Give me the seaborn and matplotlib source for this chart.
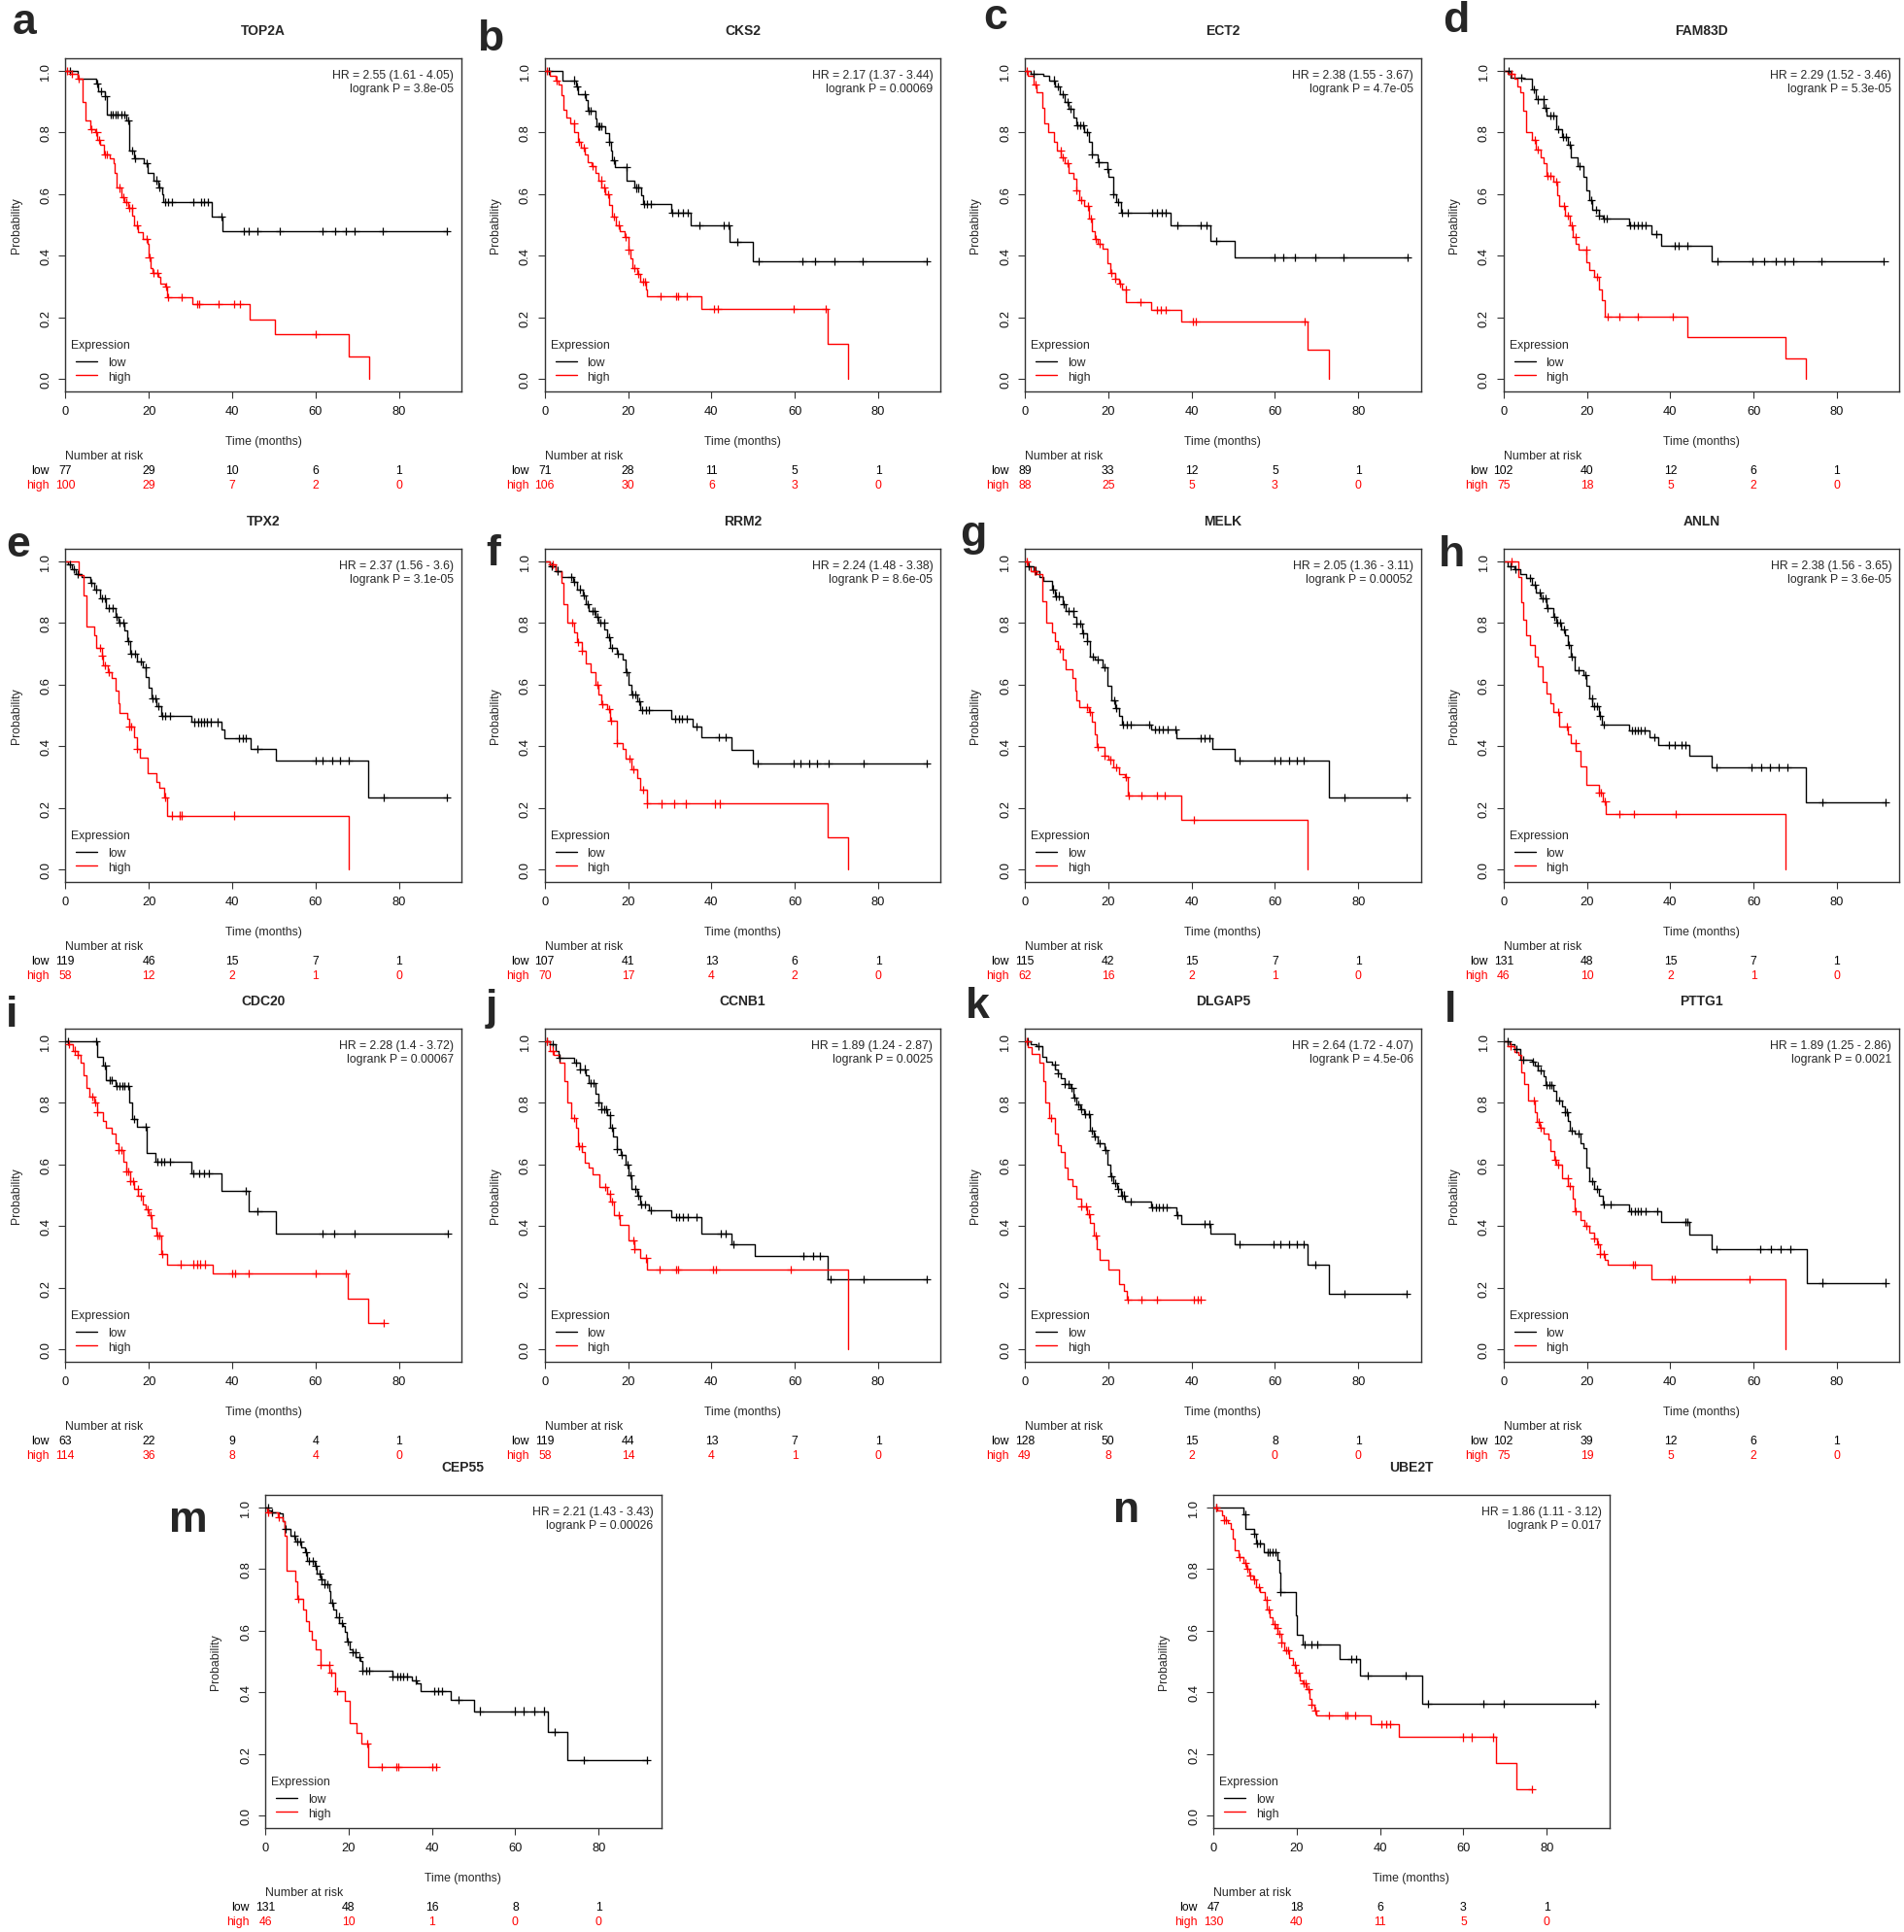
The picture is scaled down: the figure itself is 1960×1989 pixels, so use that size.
import numpy as np
import pandas as pd
import matplotlib
matplotlib.use("Agg")
import matplotlib.pyplot as plt
import matplotlib.transforms as mtransforms
import seaborn as sns

sns.set_theme(style="ticks")
plt.rcParams["font.family"] = ["Liberation Sans", "DejaVu Sans"]

# ---------------- data (time in months, survival probability) ----------------
risk_times = [0, 20, 40, 60, 80]

# a TOP2A
top2a_low_t = [2.9, 7.4, 7.8, 9.4, 10.0, 14.6, 15.4, 16.5, 18.9, 19.8, 21.2, 22.4, 23.2, 23.5, 35.2, 37.7]
top2a_low_s = [0.974, 0.96, 0.935, 0.918, 0.858, 0.838, 0.74, 0.716, 0.70, 0.67, 0.645, 0.623, 0.60, 0.573, 0.526, 0.479]
top2a_low_c = [1.0, 7.6, 8.6, 9.6, 10.8, 11.4, 12.0, 12.6, 13.5, 14.2, 15.0, 16.0, 16.7, 19.5, 21.8, 22.6, 24.0, 24.7, 25.5, 30.7, 32.5, 33.3, 34.2, 37.4, 42.9, 44.1, 46.1, 51.5, 61.8, 64.7, 67.2, 69.5, 76.1, 91.5]
top2a_high_t = [1.0, 3.0, 4.1, 4.9, 6.1, 7.2, 7.6, 8.4, 9.2, 10.7, 11.5, 11.9, 12.4, 13.4, 14.2, 15.0, 16.0, 16.5, 17.3, 18.5, 19.7, 19.9, 20.4, 21.0, 22.4, 22.8, 23.9, 24.5, 30.5, 44.3, 50.2, 68.0, 72.9]
top2a_high_s = [0.99, 0.975, 0.90, 0.84, 0.81, 0.80, 0.775, 0.76, 0.73, 0.715, 0.70, 0.67, 0.62, 0.59, 0.575, 0.555, 0.53, 0.50, 0.475, 0.455, 0.44, 0.395, 0.36, 0.345, 0.33, 0.31, 0.30, 0.265, 0.243, 0.193, 0.145, 0.072, 0.0]
top2a_high_c = [0.5, 1.5, 3.2, 6.3, 7.5, 8.2, 9.5, 10.0, 13.0, 14.0, 14.6, 15.4, 15.9, 17.2, 19.4, 20.1, 21.2, 22.0, 24.1, 24.6, 27.8, 31.6, 32.0, 36.8, 40.5, 41.8, 60.0]
top2a_risk_low = [77, 29, 10, 6, 1]
top2a_risk_high = [100, 29, 7, 2, 0]

# b CKS2
cks2_low_t = [4.3, 7.5, 7.9, 9.9, 10.3, 12.2, 12.4, 14.5, 15.5, 16.0, 16.2, 16.9, 19.7, 21.5, 23.1, 23.5, 30.3, 35.1, 44.4, 49.9]
cks2_low_s = [0.97, 0.949, 0.923, 0.905, 0.87, 0.845, 0.82, 0.797, 0.77, 0.74, 0.709, 0.688, 0.644, 0.62, 0.595, 0.567, 0.539, 0.499, 0.444, 0.381]
cks2_low_c = [0.9, 7.1, 7.7, 9.6, 10.6, 11.0, 12.8, 13.2, 13.6, 15.5, 16.7, 19.6, 21.9, 22.4, 23.8, 24.6, 25.4, 30.6, 32.0, 33.2, 34.3, 37.0, 42.9, 44.0, 46.2, 51.4, 61.9, 64.8, 69.5, 76.3, 91.6]
cks2_high_t = [1.3, 2.5, 3.3, 3.9, 4.4, 5.2, 6.2, 7.1, 7.9, 8.7, 9.5, 10.3, 11.3, 12.2, 12.8, 13.6, 14.5, 15.5, 16.1, 17.0, 18.0, 19.2, 20.0, 20.6, 21.1, 22.1, 22.9, 24.2, 24.6, 37.6, 67.9, 72.8]
cks2_high_s = [0.985, 0.97, 0.955, 0.92, 0.875, 0.85, 0.83, 0.80, 0.77, 0.75, 0.73, 0.705, 0.69, 0.67, 0.645, 0.62, 0.60, 0.565, 0.528, 0.50, 0.48, 0.46, 0.418, 0.39, 0.36, 0.34, 0.315, 0.29, 0.267, 0.228, 0.114, 0.0]
cks2_high_c = [0.6, 2.8, 7.0, 8.2, 9.4, 11.5, 13.5, 14.3, 15.3, 16.6, 17.7, 19.3, 20.2, 21.6, 22.5, 23.5, 24.0, 27.8, 31.5, 32.0, 34.0, 40.5, 41.5, 59.8, 67.5]
cks2_risk_low = [71, 28, 11, 5, 1]
cks2_risk_high = [106, 30, 6, 3, 0]

# c ECT2
ect2_low_t = [1.5, 4.4, 5.8, 7.3, 8.5, 9.5, 10.5, 11.7, 12.4, 14.3, 15.3, 16.0, 17.5, 19.7, 20.1, 21.1, 21.9, 23.0, 35.0, 44.5, 50.3]
ect2_low_s = [0.99, 0.985, 0.97, 0.95, 0.925, 0.90, 0.878, 0.85, 0.823, 0.80, 0.77, 0.728, 0.702, 0.68, 0.655, 0.60, 0.575, 0.539, 0.499, 0.449, 0.394]
ect2_low_c = [2.0, 7.0, 8.0, 9.2, 10.2, 11.0, 12.6, 13.3, 14.0, 15.0, 16.0, 17.8, 19.8, 21.2, 22.4, 23.3, 24.8, 30.6, 31.8, 32.8, 33.8, 36.6, 42.3, 43.7, 45.9, 59.8, 62.0, 64.9, 69.7, 76.5, 91.8]
ect2_high_t = [0.7, 2.2, 2.9, 4.1, 4.7, 5.5, 7.0, 7.7, 8.7, 9.5, 10.6, 11.7, 12.4, 13.1, 14.3, 15.3, 16.0, 16.8, 17.5, 18.7, 19.7, 20.4, 21.6, 22.6, 23.3, 24.3, 30.3, 37.6, 67.8, 72.9]
ect2_high_s = [0.985, 0.955, 0.93, 0.88, 0.83, 0.80, 0.77, 0.74, 0.72, 0.70, 0.67, 0.65, 0.613, 0.58, 0.56, 0.52, 0.48, 0.455, 0.44, 0.423, 0.375, 0.345, 0.325, 0.31, 0.29, 0.25, 0.225, 0.186, 0.094, 0.0]
ect2_high_c = [0.4, 2.6, 8.6, 9.0, 10.2, 12.4, 13.5, 15.2, 15.8, 17.0, 18.0, 20.8, 21.6, 22.8, 24.2, 27.8, 31.8, 32.6, 33.8, 40.3, 41.0, 67.2]
ect2_risk_low = [89, 33, 12, 5, 1]
ect2_risk_high = [88, 25, 5, 3, 0]

# d FAM83D
fam83d_low_t = [1.7, 4.6, 6.8, 7.8, 9.7, 10.4, 12.6, 14.1, 15.5, 16.2, 17.7, 19.1, 19.9, 20.6, 21.3, 22.8, 23.8, 30.0, 35.4, 37.7, 50.0]
fam83d_low_s = [0.979, 0.975, 0.94, 0.907, 0.88, 0.855, 0.81, 0.785, 0.76, 0.718, 0.69, 0.655, 0.613, 0.58, 0.55, 0.53, 0.521, 0.499, 0.47, 0.432, 0.383]
fam83d_low_c = [1.2, 4.3, 7.2, 8.3, 9.5, 10.0, 11.3, 12.0, 13.2, 14.3, 14.9, 15.8, 18.2, 21.0, 22.1, 23.0, 24.0, 24.8, 30.4, 31.3, 32.2, 33.2, 34.0, 36.7, 41.0, 42.0, 44.2, 51.3, 59.7, 62.6, 65.2, 67.5, 69.6, 76.3, 91.3]
fam83d_high_t = [1.0, 2.5, 3.2, 3.9, 4.6, 5.4, 6.8, 7.8, 9.0, 9.7, 10.4, 11.9, 12.9, 13.3, 14.8, 15.9, 16.5, 17.4, 18.0, 19.9, 20.6, 21.7, 22.8, 23.5, 24.2, 44.2, 67.7, 72.5]
fam83d_high_s = [0.99, 0.975, 0.95, 0.93, 0.87, 0.80, 0.775, 0.744, 0.72, 0.70, 0.66, 0.64, 0.597, 0.562, 0.53, 0.497, 0.46, 0.44, 0.418, 0.38, 0.354, 0.33, 0.29, 0.255, 0.203, 0.137, 0.067, 0.0]
fam83d_high_c = [2.0, 7.5, 8.2, 10.5, 11.3, 12.6, 14.4, 15.5, 16.3, 17.3, 19.8, 22.4, 25.0, 27.8, 32.2, 40.6]
fam83d_risk_low = [102, 40, 12, 6, 1]
fam83d_risk_high = [75, 18, 5, 2, 0]

# e TPX2
tpx2_low_t = [0.6, 1.5, 2.5, 3.9, 6.1, 6.9, 8.3, 9.8, 12.0, 12.7, 14.2, 14.9, 15.6, 17.1, 18.5, 19.3, 20.0, 20.7, 21.9, 22.9, 30.2, 37.5, 38.2, 44.4, 50.4, 72.6]
tpx2_low_s = [0.99, 0.975, 0.96, 0.949, 0.93, 0.91, 0.88, 0.85, 0.82, 0.80, 0.775, 0.74, 0.70, 0.675, 0.655, 0.625, 0.59, 0.555, 0.53, 0.499, 0.478, 0.453, 0.425, 0.39, 0.352, 0.234]
tpx2_low_c = [1.0, 2.0, 3.0, 6.3, 7.5, 8.8, 9.6, 10.4, 11.4, 12.4, 13.0, 13.8, 15.0, 15.8, 16.7, 18.0, 19.2, 21.0, 21.6, 22.4, 23.3, 24.0, 25.0, 31.0, 31.8, 32.5, 33.2, 34.0, 35.0, 36.6, 41.6, 42.6, 43.4, 46.2, 60.0, 61.8, 64.0, 66.0, 68.0, 76.4, 91.5]
tpx2_high_t = [3.2, 4.4, 5.0, 6.9, 7.3, 8.8, 9.1, 10.2, 11.2, 12.0, 12.7, 13.1, 14.9, 15.3, 16.4, 17.1, 17.8, 19.7, 21.9, 22.5, 23.6, 24.4, 67.9]
tpx2_high_s = [0.955, 0.89, 0.79, 0.76, 0.72, 0.695, 0.662, 0.64, 0.62, 0.58, 0.54, 0.507, 0.49, 0.465, 0.43, 0.392, 0.363, 0.313, 0.285, 0.265, 0.235, 0.175, 0.0]
tpx2_high_c = [8.4, 8.8, 9.6, 10.5, 15.4, 15.8, 17.2, 24.0, 25.6, 27.5, 28.0, 40.6]
tpx2_risk_low = [119, 46, 15, 7, 1]
tpx2_risk_high = [58, 12, 2, 1, 0]

# f RRM2
rrm2_low_t = [1.2, 2.6, 4.1, 6.7, 7.7, 9.2, 9.9, 10.6, 12.1, 12.8, 14.3, 15.0, 15.7, 17.2, 18.6, 19.4, 20.1, 20.8, 22.3, 23.0, 30.3, 35.4, 37.6, 44.8, 49.9]
rrm2_low_s = [0.985, 0.97, 0.95, 0.935, 0.91, 0.889, 0.86, 0.84, 0.82, 0.80, 0.78, 0.755, 0.72, 0.70, 0.68, 0.64, 0.60, 0.568, 0.545, 0.516, 0.489, 0.465, 0.428, 0.389, 0.345]
rrm2_low_c = [1.6, 3.0, 6.4, 7.0, 8.4, 9.4, 10.2, 11.4, 12.0, 12.6, 13.4, 14.2, 15.4, 16.2, 17.6, 19.6, 21.0, 21.8, 22.6, 23.4, 24.2, 25.0, 31.2, 32.2, 33.0, 34.0, 36.4, 41.8, 43.4, 51.0, 59.7, 61.4, 63.4, 65.4, 68.0, 76.6, 91.7]
rrm2_high_t = [1.2, 2.6, 4.1, 4.5, 5.5, 7.0, 7.7, 8.9, 9.9, 10.9, 12.1, 12.8, 13.5, 15.0, 15.7, 17.2, 18.6, 19.4, 20.8, 22.3, 23.0, 24.5, 67.8, 72.8]
rrm2_high_s = [0.99, 0.97, 0.93, 0.86, 0.80, 0.77, 0.737, 0.71, 0.67, 0.64, 0.60, 0.568, 0.537, 0.52, 0.484, 0.41, 0.39, 0.36, 0.324, 0.295, 0.258, 0.213, 0.105, 0.0]
rrm2_high_c = [1.8, 6.6, 8.0, 9.0, 12.6, 13.8, 15.4, 16.0, 17.4, 20.4, 21.2, 23.6, 24.6, 28.1, 31.0, 33.9, 40.9, 41.9]
rrm2_risk_low = [107, 41, 13, 6, 1]
rrm2_risk_high = [70, 17, 4, 2, 0]

# g MELK
melk_low_t = [0.7, 2.2, 3.6, 4.4, 6.6, 7.3, 9.0, 9.9, 11.7, 12.4, 13.8, 14.9, 15.7, 16.8, 18.7, 19.7, 20.7, 21.6, 22.6, 23.3, 30.3, 36.4, 44.9, 50.3, 72.9]
melk_low_s = [0.985, 0.97, 0.95, 0.937, 0.91, 0.888, 0.86, 0.839, 0.82, 0.797, 0.765, 0.74, 0.69, 0.68, 0.655, 0.595, 0.55, 0.523, 0.50, 0.47, 0.453, 0.426, 0.39, 0.352, 0.234]
melk_low_c = [1.0, 2.6, 6.8, 7.4, 8.2, 9.4, 10.6, 11.6, 12.4, 13.2, 14.0, 15.0, 16.4, 17.4, 19.2, 21.4, 22.0, 23.6, 24.4, 25.4, 29.8, 31.2, 32.2, 33.2, 34.2, 36.2, 42.2, 43.2, 44.2, 51.4, 59.8, 61.4, 63.4, 65.2, 66.8, 76.6, 91.5]
melk_high_t = [0.7, 1.5, 2.9, 4.1, 5.1, 6.6, 7.3, 8.0, 9.2, 9.9, 11.4, 12.1, 12.4, 13.1, 15.3, 16.0, 16.8, 17.2, 19.0, 20.1, 21.1, 22.6, 24.1, 24.8, 37.6, 67.8]
melk_high_s = [0.985, 0.97, 0.96, 0.87, 0.80, 0.77, 0.74, 0.716, 0.68, 0.65, 0.62, 0.58, 0.55, 0.528, 0.51, 0.48, 0.44, 0.397, 0.37, 0.355, 0.33, 0.31, 0.30, 0.241, 0.162, 0.0]
melk_high_c = [0.4, 2.4, 8.3, 15.0, 15.7, 17.4, 19.2, 20.6, 21.8, 24.3, 24.9, 28.0, 31.8, 33.5, 40.5]
melk_risk_low = [115, 42, 15, 7, 1]
melk_risk_high = [62, 16, 2, 1, 0]

# h ANLN
anln_low_t = [1.0, 2.5, 3.9, 5.4, 6.8, 7.8, 9.0, 10.4, 11.9, 12.6, 13.8, 14.8, 15.5, 16.2, 17.0, 19.1, 19.9, 20.6, 21.3, 22.8, 23.5, 30.0, 35.1, 37.2, 44.5, 50.0, 72.5]
anln_low_s = [0.985, 0.975, 0.96, 0.945, 0.925, 0.90, 0.88, 0.849, 0.82, 0.80, 0.78, 0.76, 0.73, 0.69, 0.647, 0.63, 0.595, 0.555, 0.53, 0.50, 0.47, 0.45, 0.43, 0.403, 0.368, 0.33, 0.219]
anln_low_c = [1.6, 2.8, 6.4, 7.4, 8.6, 9.4, 10.0, 10.6, 12.2, 12.8, 13.6, 14.6, 15.6, 16.4, 18.0, 19.6, 21.2, 21.8, 22.4, 23.2, 24.0, 30.8, 31.6, 32.2, 33.0, 33.8, 36.2, 39.6, 41.0, 42.6, 43.6, 51.2, 59.6, 61.8, 64.0, 66.0, 68.0, 76.4, 91.6]
anln_high_t = [3.5, 4.2, 4.6, 5.4, 6.4, 7.5, 8.3, 9.3, 10.4, 11.2, 11.9, 13.3, 15.5, 16.2, 17.4, 18.4, 19.9, 22.8, 23.8, 24.6, 67.7]
anln_high_s = [0.95, 0.868, 0.81, 0.76, 0.73, 0.69, 0.658, 0.61, 0.57, 0.54, 0.51, 0.465, 0.439, 0.41, 0.386, 0.334, 0.276, 0.25, 0.221, 0.181, 0.0]
anln_high_c = [2.0, 13.2, 15.3, 17.2, 22.8, 23.4, 24.4, 27.8, 31.2, 41.4]
anln_risk_low = [131, 48, 15, 7, 1]
anln_risk_high = [46, 10, 2, 1, 0]

# i CDC20
cdc20_low_t = [7.6, 9.1, 9.8, 12.0, 15.3, 16.1, 17.1, 19.6, 21.5, 30.2, 37.5, 44.1, 50.4]
cdc20_low_s = [0.95, 0.92, 0.874, 0.855, 0.80, 0.747, 0.721, 0.637, 0.608, 0.57, 0.513, 0.447, 0.374]
cdc20_low_c = [0.6, 7.4, 9.6, 10.6, 11.1, 12.4, 13.0, 13.6, 14.2, 15.0, 16.4, 19.2, 22.0, 23.0, 23.8, 25.0, 30.6, 32.2, 33.2, 34.4, 43.4, 46.2, 61.6, 64.6, 69.4, 91.8]
cdc20_high_t = [0.6, 1.8, 2.9, 3.6, 4.4, 5.1, 5.8, 6.9, 7.6, 9.1, 9.8, 11.2, 12.0, 12.7, 13.9, 14.6, 15.6, 16.4, 17.5, 18.5, 19.3, 20.0, 20.7, 21.9, 22.9, 24.4, 35.3, 67.7, 72.6]
cdc20_high_s = [0.99, 0.97, 0.955, 0.93, 0.89, 0.85, 0.82, 0.80, 0.77, 0.74, 0.72, 0.70, 0.67, 0.647, 0.61, 0.576, 0.545, 0.52, 0.497, 0.47, 0.455, 0.435, 0.395, 0.37, 0.31, 0.276, 0.247, 0.165, 0.084]
cdc20_high_c = [0.8, 2.2, 3.0, 6.4, 7.2, 7.6, 12.8, 13.4, 14.6, 15.0, 15.6, 16.2, 17.4, 18.0, 19.8, 20.4, 22.0, 22.6, 23.3, 27.6, 30.6, 31.6, 32.4, 33.4, 40.0, 40.8, 44.0, 60.0, 67.2, 76.5]
cdc20_risk_low = [63, 22, 9, 4, 1]
cdc20_risk_high = [114, 36, 8, 4, 0]

# j CCNB1
ccnb1_low_t = [1.2, 2.6, 3.3, 7.0, 8.4, 9.9, 10.6, 12.1, 12.8, 13.5, 15.0, 15.7, 16.4, 17.2, 18.2, 19.4, 20.1, 20.8, 22.3, 23.0, 24.9, 30.3, 37.6, 44.8, 50.4, 67.8]
ccnb1_low_s = [0.99, 0.97, 0.947, 0.93, 0.91, 0.89, 0.863, 0.83, 0.80, 0.779, 0.76, 0.72, 0.69, 0.65, 0.63, 0.60, 0.565, 0.521, 0.50, 0.47, 0.45, 0.43, 0.376, 0.342, 0.302, 0.226]
ccnb1_low_c = [0.6, 2.0, 3.6, 7.4, 8.4, 9.6, 11.0, 11.6, 12.8, 13.6, 14.2, 14.8, 15.6, 16.2, 17.4, 18.4, 19.8, 20.6, 21.8, 22.4, 23.2, 24.0, 25.4, 31.4, 32.2, 33.2, 34.2, 36.4, 42.2, 43.4, 45.2, 62.0, 64.4, 66.0, 68.6, 76.4, 91.7]
ccnb1_high_t = [1.2, 2.2, 3.6, 4.8, 5.5, 6.3, 7.4, 8.0, 8.9, 9.5, 10.6, 11.4, 13.2, 15.0, 15.7, 16.7, 17.9, 20.1, 21.5, 23.0, 24.5, 72.8]
ccnb1_high_s = [0.97, 0.955, 0.93, 0.87, 0.80, 0.75, 0.72, 0.66, 0.64, 0.605, 0.59, 0.568, 0.526, 0.505, 0.48, 0.435, 0.405, 0.353, 0.325, 0.295, 0.258, 0.0]
ccnb1_high_c = [0.6, 1.8, 7.0, 8.2, 8.8, 14.6, 15.6, 16.2, 17.8, 21.2, 21.6, 24.4, 27.5, 31.4, 32.0, 40.4, 41.0, 59.0]
ccnb1_risk_low = [119, 44, 13, 7, 1]
ccnb1_risk_high = [58, 14, 4, 1, 0]

# k DLGAP5
dlgap5_low_t = [1.5, 2.9, 4.1, 5.1, 6.6, 7.3, 8.0, 8.7, 9.5, 10.9, 11.7, 12.4, 13.4, 14.3, 15.7, 16.5, 17.5, 19.0, 19.7, 20.4, 21.1, 22.2, 23.0, 24.1, 30.3, 36.4, 37.6, 44.5, 50.3, 67.8, 72.9]
dlgap5_low_s = [0.99, 0.985, 0.95, 0.935, 0.925, 0.91, 0.895, 0.88, 0.86, 0.85, 0.816, 0.795, 0.78, 0.763, 0.71, 0.69, 0.67, 0.647, 0.60, 0.56, 0.54, 0.52, 0.50, 0.479, 0.46, 0.435, 0.408, 0.376, 0.342, 0.274, 0.181]
dlgap5_low_c = [0.8, 3.2, 7.2, 8.0, 9.6, 10.4, 11.3, 11.8, 12.8, 13.6, 14.4, 15.3, 16.0, 16.8, 18.0, 19.4, 20.8, 21.6, 22.4, 23.2, 23.8, 25.4, 30.6, 31.4, 32.2, 33.0, 34.0, 36.6, 43.2, 44.3, 51.6, 59.6, 61.4, 63.4, 65.2, 66.8, 69.6, 76.6, 91.5]
dlgap5_high_t = [0.7, 1.7, 3.6, 4.4, 4.8, 5.8, 7.3, 8.0, 8.7, 9.5, 10.2, 11.4, 12.4, 13.6, 14.9, 15.7, 16.5, 17.2, 17.9, 20.1, 22.6, 23.8, 24.5]
dlgap5_high_s = [0.98, 0.96, 0.93, 0.87, 0.80, 0.75, 0.70, 0.663, 0.64, 0.59, 0.553, 0.53, 0.489, 0.463, 0.44, 0.41, 0.37, 0.326, 0.29, 0.258, 0.21, 0.19, 0.162]
dlgap5_high_c = [0.4, 6.2, 13.6, 14.8, 15.5, 17.1, 24.8, 28.0, 31.8, 40.5, 41.5, 42.3]
dlgap5_risk_low = [128, 50, 15, 8, 1]
dlgap5_risk_high = [49, 8, 2, 0, 0]

# l PTTG1
pttg1_low_t = [1.4, 2.5, 3.9, 6.8, 7.5, 8.3, 9.7, 10.1, 11.9, 12.6, 14.1, 14.8, 15.5, 15.9, 17.0, 18.4, 19.1, 19.9, 20.6, 21.7, 22.8, 23.8, 30.0, 37.7, 44.5, 50.0, 72.8]
pttg1_low_s = [0.99, 0.975, 0.94, 0.935, 0.92, 0.905, 0.885, 0.858, 0.84, 0.807, 0.79, 0.77, 0.74, 0.71, 0.70, 0.67, 0.653, 0.589, 0.547, 0.52, 0.50, 0.47, 0.449, 0.413, 0.371, 0.326, 0.216]
pttg1_low_c = [1.0, 3.0, 4.6, 7.0, 8.2, 9.0, 10.4, 11.0, 11.4, 13.4, 14.8, 15.3, 16.3, 18.0, 21.2, 22.4, 24.0, 25.6, 30.6, 31.4, 32.2, 33.0, 34.0, 36.8, 43.6, 44.2, 51.2, 61.6, 64.2, 66.4, 68.8, 76.4, 91.6]
pttg1_high_t = [1.0, 2.5, 3.5, 4.3, 4.9, 5.8, 7.5, 8.0, 8.7, 9.7, 10.7, 11.2, 12.2, 12.6, 14.1, 15.5, 16.5, 17.0, 18.4, 19.4, 20.6, 21.7, 22.5, 23.2, 24.2, 24.9, 35.4, 67.7]
pttg1_high_s = [0.985, 0.965, 0.955, 0.90, 0.86, 0.807, 0.77, 0.737, 0.72, 0.70, 0.68, 0.645, 0.615, 0.60, 0.555, 0.53, 0.49, 0.449, 0.42, 0.40, 0.38, 0.36, 0.342, 0.31, 0.29, 0.274, 0.226, 0.0]
pttg1_high_c = [1.6, 7.2, 8.4, 9.0, 12.4, 13.0, 15.4, 15.8, 17.3, 19.8, 21.8, 22.6, 23.2, 24.0, 31.0, 31.6, 40.3, 41.0, 59.0]
pttg1_risk_low = [102, 39, 12, 6, 1]
pttg1_risk_high = [75, 19, 5, 2, 0]

# m CEP55
cep55_low_t = [0.7, 1.5, 3.5, 4.1, 4.6, 6.1, 7.2, 8.7, 9.5, 10.1, 11.8, 12.4, 13.4, 14.2, 15.3, 15.7, 16.3, 17.0, 17.8, 18.6, 19.1, 19.6, 20.2, 20.9, 21.7, 22.8, 23.3, 30.5, 35.2, 36.3, 37.3, 44.6, 50.1, 67.9, 72.6]
cep55_low_s = [0.99, 0.985, 0.98, 0.955, 0.93, 0.91, 0.89, 0.87, 0.855, 0.827, 0.81, 0.785, 0.765, 0.75, 0.73, 0.69, 0.67, 0.645, 0.625, 0.615, 0.595, 0.565, 0.54, 0.53, 0.515, 0.50, 0.47, 0.452, 0.44, 0.43, 0.404, 0.374, 0.339, 0.271, 0.179]
cep55_low_c = [0.6, 1.6, 5.0, 7.0, 7.6, 8.4, 9.8, 10.6, 11.4, 12.2, 13.0, 13.6, 14.2, 15.0, 16.0, 17.6, 18.4, 19.8, 21.0, 21.6, 22.6, 23.4, 24.2, 25.0, 30.6, 31.6, 32.4, 33.2, 34.0, 36.2, 40.6, 41.6, 42.4, 46.4, 51.4, 59.8, 62.0, 64.6, 67.0, 69.4, 76.4, 91.5]
cep55_high_t = [0.4, 3.0, 4.1, 4.6, 5.1, 7.2, 7.7, 9.2, 9.8, 10.5, 11.3, 12.2, 13.2, 15.5, 16.7, 19.1, 20.2, 21.9, 23.0, 24.6]
cep55_high_s = [0.985, 0.97, 0.955, 0.91, 0.795, 0.76, 0.704, 0.67, 0.63, 0.60, 0.57, 0.541, 0.49, 0.465, 0.404, 0.371, 0.30, 0.268, 0.234, 0.158]
cep55_high_c = [0.8, 3.2, 7.9, 13.2, 15.3, 15.8, 17.3, 24.5, 28.0, 31.4, 32.0, 40.2, 41.1]
cep55_risk_low = [131, 48, 16, 8, 1]
cep55_risk_high = [46, 10, 1, 0, 0]

# n UBE2T
ube2t_low_t = [7.2, 7.8, 9.8, 10.3, 12.2, 15.5, 15.8, 16.2, 19.7, 20.0, 21.5, 30.4, 35.3, 50.2]
ube2t_low_s = [0.977, 0.932, 0.915, 0.884, 0.856, 0.83, 0.79, 0.725, 0.65, 0.588, 0.554, 0.509, 0.454, 0.362]
ube2t_low_c = [0.8, 7.6, 9.8, 10.6, 11.2, 13.0, 13.6, 14.3, 15.0, 16.2, 22.0, 23.6, 25.0, 33.0, 34.3, 37.0, 46.2, 51.6, 64.9, 69.6, 91.5]
ube2t_high_t = [0.9, 2.0, 2.5, 3.5, 4.1, 4.6, 5.1, 6.1, 7.2, 8.0, 8.7, 9.5, 10.3, 11.3, 12.4, 12.9, 13.6, 14.3, 15.0, 15.5, 16.3, 17.1, 18.1, 19.1, 19.9, 20.7, 21.5, 22.3, 23.0, 23.6, 24.3, 24.7, 37.7, 44.6, 67.8, 72.7]
ube2t_high_s = [0.99, 0.975, 0.96, 0.95, 0.93, 0.90, 0.86, 0.84, 0.82, 0.80, 0.78, 0.765, 0.74, 0.725, 0.70, 0.67, 0.645, 0.62, 0.61, 0.59, 0.56, 0.535, 0.51, 0.49, 0.465, 0.44, 0.43, 0.41, 0.38, 0.36, 0.34, 0.324, 0.296, 0.254, 0.17, 0.086]
ube2t_high_c = [0.6, 2.6, 3.0, 6.2, 7.6, 8.2, 8.8, 9.8, 11.0, 12.8, 13.2, 14.6, 15.3, 15.8, 16.4, 17.4, 18.0, 19.6, 20.4, 21.6, 22.2, 22.8, 23.6, 24.4, 27.8, 31.6, 32.2, 34.0, 40.4, 41.4, 42.4, 60.0, 62.0, 67.2, 76.4]
ube2t_risk_low = [47, 18, 6, 3, 1]
ube2t_risk_high = [130, 40, 11, 5, 0]

genes = ["TOP2A", "CKS2", "ECT2", "FAM83D", "TPX2", "RRM2", "MELK", "ANLN",
         "CDC20", "CCNB1", "DLGAP5", "PTTG1", "CEP55", "UBE2T"]
letters = list("abcdefghijklmn")
hr_texts = ["HR = 2.55 (1.61 - 4.05)", "HR = 2.17 (1.37 - 3.44)", "HR = 2.38 (1.55 - 3.67)",
            "HR = 2.29 (1.52 - 3.46)", "HR = 2.37 (1.56 - 3.6)", "HR = 2.24 (1.48 - 3.38)",
            "HR = 2.05 (1.36 - 3.11)", "HR = 2.38 (1.56 - 3.65)", "HR = 2.28 (1.4 - 3.72)",
            "HR = 1.89 (1.24 - 2.87)", "HR = 2.64 (1.72 - 4.07)", "HR = 1.89 (1.25 - 2.86)",
            "HR = 2.21 (1.43 - 3.43)", "HR = 1.86 (1.11 - 3.12)"]
p_texts = ["logrank P = 3.8e-05", "logrank P = 0.00069", "logrank P = 4.7e-05",
           "logrank P = 5.3e-05", "logrank P = 3.1e-05", "logrank P = 8.6e-05",
           "logrank P = 0.00052", "logrank P = 3.6e-05", "logrank P = 0.00067",
           "logrank P = 0.0025", "logrank P = 4.5e-06", "logrank P = 0.0021",
           "logrank P = 0.00026", "logrank P = 0.017"]

data_sets = {
    "TOP2A": (top2a_low_t, top2a_low_s, top2a_low_c, top2a_high_t, top2a_high_s, top2a_high_c, top2a_risk_low, top2a_risk_high),
    "CKS2": (cks2_low_t, cks2_low_s, cks2_low_c, cks2_high_t, cks2_high_s, cks2_high_c, cks2_risk_low, cks2_risk_high),
    "ECT2": (ect2_low_t, ect2_low_s, ect2_low_c, ect2_high_t, ect2_high_s, ect2_high_c, ect2_risk_low, ect2_risk_high),
    "FAM83D": (fam83d_low_t, fam83d_low_s, fam83d_low_c, fam83d_high_t, fam83d_high_s, fam83d_high_c, fam83d_risk_low, fam83d_risk_high),
    "TPX2": (tpx2_low_t, tpx2_low_s, tpx2_low_c, tpx2_high_t, tpx2_high_s, tpx2_high_c, tpx2_risk_low, tpx2_risk_high),
    "RRM2": (rrm2_low_t, rrm2_low_s, rrm2_low_c, rrm2_high_t, rrm2_high_s, rrm2_high_c, rrm2_risk_low, rrm2_risk_high),
    "MELK": (melk_low_t, melk_low_s, melk_low_c, melk_high_t, melk_high_s, melk_high_c, melk_risk_low, melk_risk_high),
    "ANLN": (anln_low_t, anln_low_s, anln_low_c, anln_high_t, anln_high_s, anln_high_c, anln_risk_low, anln_risk_high),
    "CDC20": (cdc20_low_t, cdc20_low_s, cdc20_low_c, cdc20_high_t, cdc20_high_s, cdc20_high_c, cdc20_risk_low, cdc20_risk_high),
    "CCNB1": (ccnb1_low_t, ccnb1_low_s, ccnb1_low_c, ccnb1_high_t, ccnb1_high_s, ccnb1_high_c, ccnb1_risk_low, ccnb1_risk_high),
    "DLGAP5": (dlgap5_low_t, dlgap5_low_s, dlgap5_low_c, dlgap5_high_t, dlgap5_high_s, dlgap5_high_c, dlgap5_risk_low, dlgap5_risk_high),
    "PTTG1": (pttg1_low_t, pttg1_low_s, pttg1_low_c, pttg1_high_t, pttg1_high_s, pttg1_high_c, pttg1_risk_low, pttg1_risk_high),
    "CEP55": (cep55_low_t, cep55_low_s, cep55_low_c, cep55_high_t, cep55_high_s, cep55_high_c, cep55_risk_low, cep55_risk_high),
    "UBE2T": (ube2t_low_t, ube2t_low_s, ube2t_low_c, ube2t_high_t, ube2t_high_s, ube2t_high_c, ube2t_risk_low, ube2t_risk_high),
}

# ---------------- layout (pixels in a 1960 x 1990 canvas) ----------------
W, H = 1960, 1990
col_x0 = [67.3, 560.8, 1055.0, 1547.8]
row_y1 = [74, 579, 1073]
panel_pos = [(col_x0[c], row_y1[r]) for r in range(3) for c in range(4)] + [(273.0, 1553), (1249.0, 1553)]
letter_pos = [(13, 35), (491, 52), (1012, 30), (1485, 33), (6, 573), (500, 582), (988, 562),
              (1481, 583), (6, 1057), (500, 1050), (994, 1048), (1487, 1052), (174, 1577), (1146, 1567)]
PX_PER_MONTH = 4.29
PX_PER_UNIT = 317.0
XMAX = 95.0
palette = {"low": "black", "high": "#ff0000"}


def fx(px):
    return px / W


def fy(py):
    return 1 - py / H


def km_frame(t, s, c, label):
    t_end = max(max(t), max(c))
    times = [0.0] + list(t)
    survs = [1.0] + list(s)
    if t_end > max(t):
        times.append(t_end)
        survs.append(s[-1])
    return pd.DataFrame({"time": times, "surv": survs, "Expression": label})


def censor_frame(t, s, c, label):
    idx = np.searchsorted(np.asarray(t), np.asarray(c), side="right")
    y = np.r_[1.0, np.asarray(s)][idx]
    return pd.DataFrame({"time": c, "surv": y, "Expression": label})


fig = plt.figure(figsize=(W / 100, H / 100), dpi=100)
fig.patch.set_facecolor("white")

fs = 8.8
for k, gene in enumerate(genes):
    lt, ls, lc, ht, hs, hc, rl, rh = data_sets[gene]
    x0, y1 = panel_pos[k]
    top_px = y1 - 0.04 * PX_PER_UNIT
    h_px = 1.08 * PX_PER_UNIT
    w_px = XMAX * PX_PER_MONTH
    ax = fig.add_axes([fx(x0), fy(top_px + h_px), w_px / W, h_px / H])

    curves = pd.concat([km_frame(lt, ls, lc, "low"), km_frame(ht, hs, hc, "high")], ignore_index=True)
    marks = pd.concat([censor_frame(lt, ls, lc, "low"), censor_frame(ht, hs, hc, "high")], ignore_index=True)

    sns.lineplot(data=curves, x="time", y="surv", hue="Expression", hue_order=["low", "high"],
                 palette=palette, estimator=None, sort=False, drawstyle="steps-post",
                 linewidth=1.0, ax=ax)
    sns.scatterplot(data=marks, x="time", y="surv", hue="Expression", hue_order=["low", "high"],
                    palette=palette, marker="+", s=34, linewidth=0.9, legend=False, ax=ax, zorder=3)

    ax.set_xlim(0, XMAX)
    ax.set_ylim(-0.04, 1.04)
    ax.set_xticks(risk_times)
    ax.set_yticks([0, 0.2, 0.4, 0.6, 0.8, 1.0])
    ax.set_yticklabels(["0.0", "0.2", "0.4", "0.6", "0.8", "1.0"], rotation=90, va="center")
    ax.set_xlabel("")
    ax.set_ylabel("")
    ax.tick_params(axis="both", direction="out", length=5, width=0.8, color="#333333",
                   labelsize=9.3, labelcolor="#111111")
    ax.tick_params(axis="x", pad=5)
    ax.tick_params(axis="y", pad=5)
    for sp in ax.spines.values():
        sp.set_visible(True)
        sp.set_color("#333333")
        sp.set_linewidth(1.0)

    # legend: entries centred between the two rows, header drawn as text above
    handles, labels = ax.get_legend_handles_labels()
    leg_center_px = (y1 + 307.5) - top_px
    ax.legend(handles, labels, loc="center left",
              bbox_to_anchor=(10.7 / w_px, 1 - leg_center_px / h_px),
              frameon=False, fontsize=fs, handlelength=1.8, handletextpad=0.9,
              labelspacing=0.2, borderpad=0, borderaxespad=0)
    fig.text(fx(x0 + 6), fy(y1 + 281.7), "Expression", ha="left", va="center", fontsize=fs)

    # titles and annotations
    fig.text(fx(x0 + w_px / 2), fy(y1 - 42), gene, ha="center", va="center",
             fontsize=10, fontweight="bold")
    fig.text(fx(x0 + 399.5), fy(y1 + 3.7), hr_texts[k], ha="right", va="center", fontsize=fs)
    fig.text(fx(x0 + 399.5), fy(y1 + 18.3), p_texts[k], ha="right", va="center", fontsize=fs)
    fig.text(fx(x0 - 50.6), fy(y1 + 158.5), "Probability", ha="center", va="center",
             rotation=90, fontsize=fs)
    fig.text(fx(x0 + w_px / 2), fy(y1 + 381), "Time (months)", ha="center", va="center", fontsize=fs)
    fig.text(fx(x0), fy(y1 + 396), "Number at risk", ha="left", va="center", fontsize=fs)
    fig.text(fx(x0 - 16.6), fy(y1 + 411), "low", ha="right", va="center", fontsize=fs, color="black")
    fig.text(fx(x0 - 16.6), fy(y1 + 425.7), "high", ha="right", va="center", fontsize=fs, color="#ff0000")
    trans = mtransforms.blended_transform_factory(ax.transData, fig.transFigure)
    for t, nl, nh in zip(risk_times, rl, rh):
        ax.text(t, fy(y1 + 411), str(nl), transform=trans, ha="center", va="center",
                fontsize=fs, color="black", clip_on=False)
        ax.text(t, fy(y1 + 425.7), str(nh), transform=trans, ha="center", va="center",
                fontsize=fs, color="#ff0000", clip_on=False)

    lx, ly = letter_pos[k]
    fig.text(fx(lx), fy(ly), letters[k], ha="left", va="baseline", fontsize=32, fontweight="bold")

fig.savefig("out.png", dpi=100, facecolor="white")
